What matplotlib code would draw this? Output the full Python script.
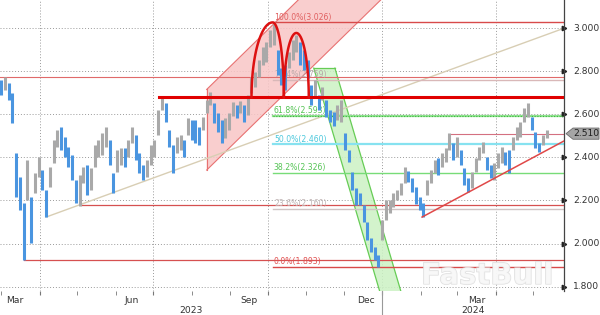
import matplotlib
matplotlib.use("Agg")
import matplotlib.pyplot as plt
import matplotlib.dates as mdates
import matplotlib.transforms as mtransforms
import matplotlib.patheffects as pe
import numpy as np
import pandas as pd

# ---------------------------------------------------------------------------
# price bars (high / low), one bar every 3 days from 1 Mar 2023
# ---------------------------------------------------------------------------
BAR_START = "2023-03-01"
BAR_STEP = "3D"
HIGH = [2.759, 2.773, 2.745, 2.700, 2.420, 2.309, 2.188, 2.388, 2.216, 2.327,
        2.402, 2.341, 2.248, 2.355, 2.480, 2.527, 2.541, 2.494, 2.448, 2.411,
        2.295, 2.318, 2.355, 2.364, 2.350, 2.457, 2.480, 2.513, 2.541, 2.480,
        2.327, 2.434, 2.443, 2.443, 2.480, 2.541, 2.504, 2.420, 2.364, 2.388,
        2.457, 2.480, 2.620, 2.675, 2.652, 2.527, 2.457, 2.494, 2.504, 2.480,
        2.582, 2.573, 2.573, 2.541, 2.587, 2.666, 2.703, 2.652, 2.606, 2.573,
        2.582, 2.606, 2.657, 2.643, 2.661, 2.643, 2.689, 2.773, 2.796, 2.852,
        2.912, 2.935, 2.991, 3.026, 2.898, 2.814, 2.828, 2.889, 2.944, 2.968,
        2.935, 2.898, 2.852, 2.736, 2.759, 2.689, 2.726, 2.666, 2.620, 2.610,
        2.643, 2.666, 2.513, 2.434, 2.332, 2.258, 2.235, 2.179, 2.100, 2.026,
        1.984, 1.947, 2.109, 2.202, 2.202, 2.235, 2.248, 2.281, 2.355, 2.337,
        2.304, 2.262, 2.216, 2.188, 2.295, 2.341, 2.388, 2.397, 2.420, 2.443,
        2.513, 2.466, 2.494, 2.434, 2.350, 2.304, 2.332, 2.397, 2.448, 2.471,
        2.402, 2.364, 2.374, 2.420, 2.448, 2.425, 2.434, 2.494, 2.541, 2.564,
        2.629, 2.652, 2.587, 2.517, 2.466, 2.504, 2.527]
LOW = [2.689, 2.712, 2.666, 2.560, 2.216, 2.156, 1.924, 2.202, 2.003, 2.235,
       2.309, 2.248, 2.123, 2.262, 2.374, 2.448, 2.434, 2.402, 2.355, 2.295,
       2.188, 2.174, 2.281, 2.225, 2.248, 2.355, 2.402, 2.411, 2.448, 2.364,
       2.235, 2.332, 2.364, 2.355, 2.402, 2.466, 2.388, 2.327, 2.295, 2.309,
       2.364, 2.402, 2.504, 2.620, 2.564, 2.448, 2.327, 2.420, 2.434, 2.402,
       2.504, 2.480, 2.466, 2.457, 2.527, 2.606, 2.643, 2.559, 2.517, 2.466,
       2.490, 2.527, 2.592, 2.582, 2.606, 2.564, 2.596, 2.698, 2.726, 2.773,
       2.828, 2.842, 2.912, 2.921, 2.782, 2.736, 2.712, 2.814, 2.852, 2.889,
       2.828, 2.805, 2.768, 2.643, 2.680, 2.620, 2.666, 2.587, 2.564, 2.545,
       2.573, 2.564, 2.434, 2.378, 2.248, 2.179, 2.179, 2.100, 2.016, 1.961,
       1.924, 1.893, 2.016, 2.109, 2.142, 2.170, 2.202, 2.225, 2.281, 2.286,
       2.239, 2.183, 2.156, 2.123, 2.225, 2.281, 2.327, 2.318, 2.355, 2.378,
       2.434, 2.388, 2.402, 2.364, 2.272, 2.239, 2.258, 2.332, 2.388, 2.420,
       2.341, 2.304, 2.295, 2.350, 2.374, 2.364, 2.327, 2.434, 2.480, 2.494,
       2.564, 2.587, 2.527, 2.443, 2.425, 2.457, 2.490]
LAST_PRICE = 2.510

# fibonacci retracement
FIB_START = "2023-10-05"
FIB_NAMES = ["100.0%", "76.4%", "61.8%", "50.0%", "38.2%", "23.6%", "0.0%"]
FIB_LEVELS = [3.026, 2.759, 2.593, 2.460, 2.326, 2.160, 1.893]
FIB_COLORS = ["#d84a4a", "#d9b8b8", "#8fe38f", "#86e2f0", "#78dc78", "#cfc4c4", "#d84a4a"]
FIB_TEXT = ["#e06060", "#b8a8a8", "#55c455", "#4cc8dc", "#55c455", "#c0b4b4", "#e05050"]

# horizontal support / resistance lines
HLINE_STARTS = ["2023-02-28", "2023-07-06", "2023-05-03", "2023-03-19", "2024-02-25"]
HLINE_LEVELS = [2.775, 2.678, 2.181, 1.923, LAST_PRICE]
HLINE_COLORS = ["#e06a6a", "#e00000", "#d65050", "#d65050", "#d47080"]
HLINE_WIDTHS = [0.8, 2.2, 0.9, 0.9, 0.8]

# trend lines
TREND_DATES = ["2023-04-06", "2024-05-26"]
TREND_VALUES = [2.123, 2.999]
SUPPORT_DATES = ["2024-02-02", "2024-05-26"]
SUPPORT_VALUES = [2.123, 2.476]

# rising (red) channel and falling (green) channel
UP_DATES = ["2023-08-13", "2024-01-01"]
UP_LOWER = [2.341, 3.137]
UP_UPPER = [2.715, 3.511]
DOWN_TOP_DATES = ["2023-11-07", "2023-11-24"]
DOWN_BOT_DATES = ["2024-01-03", "2024-01-20"]
DOWN_TOP, DOWN_BOT = 2.814, 1.700

# double top arcs: (left foot, peak, right foot), base, top
ARC_DATES = [("2023-09-18", "2023-10-05", "2023-10-14"),
             ("2023-10-14", "2023-10-24", "2023-11-03")]
ARC_BASE = 2.678
ARC_TOPS = [3.026, 2.977]

Y_TICKS = [1.8, 2.0, 2.2, 2.4, 2.6, 2.8, 3.0]
MONTH_LABELS = [("2023-03-12", "Mar"), ("2023-06-14", "Jun"), ("2023-09-16", "Sep"),
                ("2023-12-19", "Dec"), ("2024-03-17", "Mar")]
YEAR_LABELS = [("2023-07-31", "2023"), ("2024-03-14", "2024")]
X_MIN, X_MAX = "2023-02-28", "2024-05-26"
Y_MIN, Y_MAX = 1.780, 3.130

plt.rcParams["font.family"] = ["DejaVu Sans"]

fig = plt.figure(figsize=(6, 3.15), dpi=100)
ax = fig.add_axes([0, 24 / 315, 564 / 600, 291 / 315])
d = mdates.date2num
ts = lambda s: d(pd.Timestamp(s))

ax.set_xlim(ts(X_MIN), ts(X_MAX))
ax.set_ylim(Y_MIN, Y_MAX)
for s in ["left", "top", "bottom"]:
    ax.spines[s].set_visible(False)
ax.spines["right"].set_color("#444444")
ax.spines["right"].set_linewidth(0.9)

# grid
ax.set_yticks(Y_TICKS)
ax.xaxis.set_major_locator(mdates.MonthLocator(bymonth=[1, 4, 7, 10]))
ax.xaxis.set_minor_locator(mdates.MonthLocator())
ax.grid(True, which="major", color="#9a9a9a", linestyle=(0, (1, 2)), linewidth=0.7)
ax.tick_params(axis="y", left=False, labelleft=False)
ax.tick_params(axis="x", which="both", length=3, color="#777777", labelbottom=False)
ax.set_axisbelow(True)

# channels
xu = [ts(v) for v in UP_DATES]
ax.fill([xu[0], xu[1], xu[1], xu[0]], [UP_LOWER[0], UP_LOWER[1], UP_UPPER[1], UP_UPPER[0]],
        color="#f9c6c6", alpha=0.85, zorder=1, lw=0)
ax.plot(xu, UP_LOWER, color="#e87272", lw=0.8, zorder=1.5)
ax.plot(xu, UP_UPPER, color="#e87272", lw=0.8, zorder=1.5)
ax.plot([xu[0], xu[0]], [UP_LOWER[0], UP_UPPER[0]], color="#e87272", lw=0.8, zorder=1.5)

xt = [ts(v) for v in DOWN_TOP_DATES]
xb = [ts(v) for v in DOWN_BOT_DATES]
ax.fill([xt[0], xt[1], xb[1], xb[0]], [DOWN_TOP, DOWN_TOP, DOWN_BOT, DOWN_BOT],
        color="#ccf2c4", alpha=0.85, zorder=1, lw=0)
ax.plot([xt[0], xb[0]], [DOWN_TOP, DOWN_BOT], color="#66cc55", lw=0.9, zorder=1.5)
ax.plot([xt[1], xb[1]], [DOWN_TOP, DOWN_BOT], color="#66cc55", lw=0.9, zorder=1.5)
ax.plot(xt, [DOWN_TOP, DOWN_TOP], color="#66cc55", lw=0.9, zorder=1.5)

# trend lines
ax.plot([ts(v) for v in TREND_DATES], TREND_VALUES, color="#d8ceb4", lw=1.0, zorder=2)
ax.plot([ts(v) for v in SUPPORT_DATES], SUPPORT_VALUES, color="#e04848", lw=1.1, zorder=4)

# horizontal lines
x_end = ts(X_MAX)
for start, lvl, c, w in zip(HLINE_STARTS, HLINE_LEVELS, HLINE_COLORS, HLINE_WIDTHS):
    ax.plot([ts(start), x_end], [lvl, lvl], color=c, lw=w, zorder=4 if w > 2 else 2)

# fibonacci levels
fx = ts(FIB_START)
for name, lvl, c, tc in zip(FIB_NAMES, FIB_LEVELS, FIB_COLORS, FIB_TEXT):
    lw = 1.6 if name in ("61.8%", "50.0%") else 1.0
    ax.plot([fx, x_end], [lvl, lvl], color=c, lw=lw, zorder=2)
    if name == "61.8%":
        ax.plot([fx, x_end], [lvl, lvl], color="#3fb53f", lw=0.8,
                linestyle=(0, (1, 1.5)), zorder=2.1)
    ax.text(fx + 1, lvl + 0.004, f"{name}({lvl:.3f})", color=tc, fontsize=5.6,
            ha="left", va="bottom", zorder=2.5)

# price bars
dates = pd.date_range(BAR_START, periods=len(HIGH), freq=BAR_STEP)
hi = np.array(HIGH)
lo = np.array(LOW)
mid = (hi + lo) / 2
colors = ["#a9a9a9" if i > 0 and mid[i] > mid[i - 1] else "#4a95e0" for i in range(len(mid))]
ax.vlines(d(dates), lo, hi, colors=colors, lw=2.2, zorder=3)

# double top arcs
for (a, p, b), top in zip(ARC_DATES, ARC_TOPS):
    xa, xp, xb2 = ts(a), ts(p), ts(b)
    t1 = np.linspace(np.pi, np.pi / 2, 40)
    t2 = np.linspace(np.pi / 2, 0, 40)
    xs = np.concatenate([xp + (xp - xa) * np.cos(t1), xp + (xb2 - xp) * np.cos(t2)])
    ys = np.concatenate([ARC_BASE + (top - ARC_BASE) * np.sin(t1),
                         ARC_BASE + (top - ARC_BASE) * np.sin(t2)])
    ax.plot(xs, ys, color="#dd1111", lw=1.8, zorder=5)

# right axis ticks and labels
ytr = mtransforms.blended_transform_factory(ax.transAxes, ax.transData)
for v in Y_TICKS:
    ax.plot([1.0], [v], marker=">", ms=3.2, color="#222222", transform=ytr, clip_on=False)
    ax.text(1.016, v, f"{v:.3f}", transform=ytr, fontsize=6.6, color="#333333",
            ha="left", va="center")

# last price tag (arrow box pointing at the axis)
tag_tr = mtransforms.blended_transform_factory(fig.transFigure, ax.transData)
h = 0.026
tag_x = [566 / 600, 573 / 600, 599 / 600, 599 / 600, 573 / 600]
tag_y = [LAST_PRICE, LAST_PRICE + h, LAST_PRICE + h, LAST_PRICE - h, LAST_PRICE - h]
ax.fill(tag_x, tag_y, transform=tag_tr, fc="#a5a5a5", ec="#6a6a6a", lw=0.6,
        clip_on=False, zorder=6)
ax.text(586 / 600, LAST_PRICE, f"{LAST_PRICE:.3f}", transform=tag_tr, fontsize=6.6,
        color="#1e1e1e", ha="center", va="center", zorder=7)

# x labels
xtr = mtransforms.blended_transform_factory(ax.transData, ax.transAxes)
for dt, lab in MONTH_LABELS:
    ax.text(ts(dt), -0.031, lab, transform=xtr, fontsize=6.6, color="#333333",
            ha="center", va="center")
for dt, lab in YEAR_LABELS:
    ax.text(ts(dt), -0.066, lab, transform=xtr, fontsize=6.6, color="#333333",
            ha="center", va="center")
ax.plot([ts("2024-01-01")] * 2, [0, -0.085], transform=xtr, color="#999999",
        lw=0.8, clip_on=False)

# watermark
fig.text(0.812, 0.124, "FastBull", fontsize=21, fontweight="bold", color="#f8f8f8",
         ha="center", va="center", alpha=0.85, zorder=10,
         path_effects=[pe.withStroke(linewidth=1.0, foreground="#dadada")])

fig.savefig("out.png", dpi=100)
